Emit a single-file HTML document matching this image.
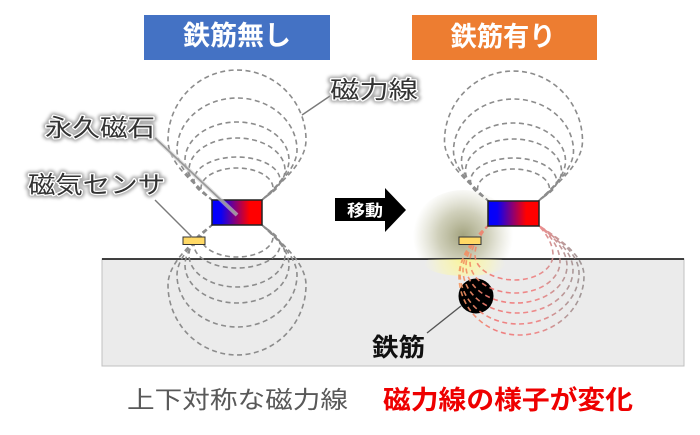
<!DOCTYPE html>
<html><head><meta charset="utf-8"><style>
html,body{margin:0;padding:0;background:#fff;}
svg{display:block;}
text{font-family:"Liberation Sans","Noto Sans CJK JP",sans-serif;}
</style></head><body>
<svg width="700" height="435" viewBox="0 0 700 435" xmlns="http://www.w3.org/2000/svg">
<defs>
  <linearGradient id="mag" x1="0" y1="0" x2="1" y2="0">
    <stop offset="0" stop-color="#0000ff"/>
    <stop offset="0.18" stop-color="#0a00f5"/>
    <stop offset="0.75" stop-color="#ff0000"/>
    <stop offset="1" stop-color="#ff0000"/>
  </linearGradient>
  <linearGradient id="rg" gradientUnits="userSpaceOnUse" x1="455" y1="0" x2="590" y2="0">
    <stop offset="0" stop-color="#f39a5e"/>
    <stop offset="0.3" stop-color="#f07474"/>
    <stop offset="0.62" stop-color="#ee8282"/>
    <stop offset="0.82" stop-color="#b09090"/>
    <stop offset="1" stop-color="#8c8c8c"/>
  </linearGradient>
  <radialGradient id="glowA" gradientUnits="userSpaceOnUse" cx="463" cy="236" r="50">
    <stop offset="0" stop-color="rgb(100,100,40)" stop-opacity="0.6"/>
    <stop offset="0.5" stop-color="rgb(120,120,60)" stop-opacity="0.35"/>
    <stop offset="1" stop-color="rgb(150,150,100)" stop-opacity="0"/>
  </radialGradient>
  <radialGradient id="glowB" gradientUnits="userSpaceOnUse" cx="465" cy="258" r="42">
    <stop offset="0" stop-color="rgb(255,248,120)" stop-opacity="0.95"/>
    <stop offset="0.6" stop-color="rgb(255,250,160)" stop-opacity="0.5"/>
    <stop offset="1" stop-color="rgb(255,255,200)" stop-opacity="0"/>
  </radialGradient>
  <clipPath id="above"><rect x="0" y="0" width="700" height="259"/></clipPath>
  <clipPath id="below"><rect x="0" y="259" width="700" height="200"/></clipPath>
  <filter id="blur" x="-20%" y="-50%" width="140%" height="200%"><feGaussianBlur stdDeviation="1.6"/></filter>
  <g id="upper" fill="none" stroke="#8c8c8c" stroke-width="1.6" stroke-dasharray="5 3.5">
    <path d="M213 201 C199 187 168 165 168 140 A69 70 0 0 1 306 140 C306 165 275 187 261 201"/>
    <path d="M213 201 C201 189 177 170 177 150 A60 52 0 0 1 297 150 C297 170 273 189 261 201"/>
    <path d="M213 201 C203 191 185 177 185 160 A52 38 0 0 1 289 160 C289 177 271 191 261 201"/>
    <path d="M213 201 C204 192 189 184 189 170 A48 32 0 0 1 285 170 C285 184 270 192 261 201"/>
    <path d="M213 201 C206 194 194 190 194 180 A43 23 0 0 1 280 180 C280 190 268 194 261 201"/>
    <path d="M213 201 C208 196 201 194 201 188 A36 20 0 0 1 273 188 C273 194 266 196 261 201"/>
  </g>
</defs>

<!-- header boxes -->
<rect x="144" y="15" width="186" height="45" fill="#4472c4"/>
<text x="237" y="45" font-size="27" font-weight="bold" fill="#fff" text-anchor="middle" textLength="108" lengthAdjust="spacingAndGlyphs">鉄筋無し</text>
<rect x="412" y="15" width="185" height="45" fill="#ed7d31"/>
<text x="503" y="46" font-size="27" font-weight="bold" fill="#fff" text-anchor="middle" textLength="105" lengthAdjust="spacingAndGlyphs">鉄筋有り</text>

<!-- glow (right) -->
<ellipse cx="463" cy="236" rx="52" ry="46" fill="url(#glowA)" clip-path="url(#above)"/>
<ellipse cx="465" cy="262" rx="44" ry="26" fill="url(#glowB)" clip-path="url(#below)"/>

<!-- ground -->
<rect x="102" y="259" width="582" height="107" fill="#ebebeb" stroke="#c0c0c0" stroke-width="1"/>
<line x1="102" y1="259" x2="684" y2="259" stroke="#262626" stroke-width="1.8"/>
<ellipse cx="465" cy="264" rx="40" ry="12" fill="url(#glowB)" clip-path="url(#below)" opacity="0.8"/>

<!-- left field lines -->
<use href="#upper"/>
<use href="#upper" transform="translate(0,425) scale(1,-1)"/>

<!-- right field lines -->
<use href="#upper" transform="translate(276.5,1)"/>

<!-- rebar -->
<circle cx="476" cy="296" r="17.5" fill="#000"/>

<g fill="none" stroke="url(#rg)" stroke-width="1.6" stroke-dasharray="5 3.5" opacity="0.9">
  <path d="M489 225 C482 232 475 243 475 255 A40 25 0 0 0 515 280 A38 25 0 0 0 553 255 C553 243 545 232 538 225"/>
  <path d="M489 225 C480 233 470 248 470 262 A45 31 0 0 0 515 293 A45 31 0 0 0 560 262 C560 246 548 233 538 225"/>
  <path d="M489 225 C479 233 466 250 466 266 A50 37 0 0 0 516 303 A51 37 0 0 0 567 266 C567 248 550 234 538 225"/>
  <path d="M489 225 C478 234 463 252 463 270 A54 43 0 0 0 517 313 A56 43 0 0 0 573 270 C573 250 552 235 538 225"/>
  <path d="M489 225 C477 234 460 254 460 273 A58 51 0 0 0 518 324 A61 51 0 0 0 579 273 C579 252 554 236 538 225"/>
  <path d="M489 225 C476 235 459 256 459 276 A60 59 0 0 0 519 335 A65 59 0 0 0 584 276 C584 254 556 237 538 225"/>
</g>

<!-- magnets & sensors -->
<rect x="212" y="200" width="50" height="25" fill="url(#mag)" stroke="#222" stroke-width="1.5"/>
<rect x="183" y="237" width="22" height="7.5" fill="#ffd966" stroke="#333" stroke-width="1"/>
<rect x="488" y="201" width="51" height="25" fill="url(#mag)" stroke="#222" stroke-width="1.5"/>
<rect x="459" y="237" width="22" height="7.5" fill="#ffd966" stroke="#333" stroke-width="1"/>

<!-- leader lines -->
<line x1="302" y1="115" x2="330" y2="96" stroke="#7a7a7a" stroke-width="1.4"/>
<line x1="155" y1="138" x2="237" y2="215" stroke="#d0d0d0" stroke-width="4" opacity="0.6"/>
<line x1="155" y1="138" x2="237" y2="215" stroke="#999" stroke-width="1.8"/>
<line x1="155" y1="200" x2="192" y2="237" stroke="#7a7a7a" stroke-width="1.4"/>
<line x1="427" y1="333" x2="461" y2="306" stroke="#555" stroke-width="1.4"/>

<!-- arrow -->
<polygon points="335,198 385,198 385,188 406,210 385,232 385,221 335,221" fill="#000"/>
<text x="365" y="216" font-size="16" font-weight="bold" fill="#fff" text-anchor="middle" textLength="36" lengthAdjust="spacingAndGlyphs">移動</text>

<!-- glowing labels -->
<g font-size="24">
  <g fill="#9a9a9a" stroke="#9a9a9a" stroke-width="6" stroke-linejoin="round" filter="url(#blur)" opacity="0.85">
    <text x="330" y="98" textLength="88" lengthAdjust="spacingAndGlyphs">磁力線</text>
    <text x="45" y="136" textLength="110" lengthAdjust="spacingAndGlyphs">永久磁石</text>
    <text x="28" y="193" textLength="137" lengthAdjust="spacingAndGlyphs">磁気センサ</text>
  </g>
  <g fill="#fff" stroke="#fff" stroke-width="2.5" stroke-linejoin="round">
    <text x="330" y="98" textLength="88" lengthAdjust="spacingAndGlyphs">磁力線</text>
    <text x="45" y="136" textLength="110" lengthAdjust="spacingAndGlyphs">永久磁石</text>
    <text x="28" y="193" textLength="137" lengthAdjust="spacingAndGlyphs">磁気センサ</text>
  </g>
  <g fill="#333">
    <text x="330" y="98" textLength="88" lengthAdjust="spacingAndGlyphs">磁力線</text>
    <text x="45" y="136" textLength="110" lengthAdjust="spacingAndGlyphs">永久磁石</text>
    <text x="28" y="193" textLength="137" lengthAdjust="spacingAndGlyphs">磁気センサ</text>
  </g>
</g>

<!-- rebar label -->
<text x="372" y="356" font-size="25" font-weight="bold" fill="#111" textLength="53" lengthAdjust="spacingAndGlyphs">鉄筋</text>

<!-- captions -->
<text x="127" y="408" font-size="24" fill="#595959" textLength="221" lengthAdjust="spacingAndGlyphs">上下対称な磁力線</text>
<text x="383" y="409" font-size="26" font-weight="bold" fill="#ee0000" textLength="250" lengthAdjust="spacingAndGlyphs">磁力線の様子が変化</text>
</svg>
</body></html>
